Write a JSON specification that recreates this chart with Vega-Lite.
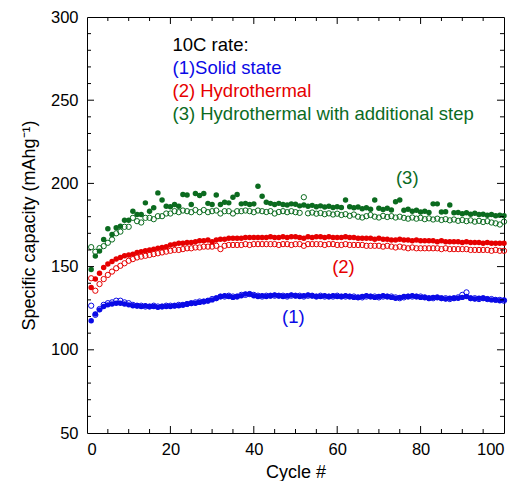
{
  "$schema": "https://vega.github.io/schema/vega-lite/v6.json",
  "width": 417,
  "height": 416,
  "autosize": {"type": "none"},
  "padding": {"left": 87, "top": 17, "right": 16, "bottom": 48},
  "background": "white",
  "config": {
    "view": {"stroke": "#000", "strokeWidth": 1},
    "font": "Liberation Sans",
    "axis": {"grid": false, "domain": false, "labelColor": "#000", "labelFont": "Liberation Sans", "labelFontSize": 16.5, "titleFont": "Liberation Sans", "titleFontSize": 18, "titleFontWeight": "normal", "titleColor": "#000"}
  },
  "datasets": {
    "b1": [{"c":1,"v":117.5},{"c":2,"v":121.5},{"c":3,"v":124},{"c":4,"v":126},{"c":5,"v":127},{"c":6,"v":127.5},{"c":7,"v":128},{"c":8,"v":128},{"c":9,"v":127.5},{"c":10,"v":127},{"c":11,"v":126.5},{"c":12,"v":126.5},{"c":13,"v":126},{"c":14,"v":126.5},{"c":15,"v":126},{"c":16,"v":126},{"c":17,"v":125.5},{"c":18,"v":126},{"c":19,"v":126},{"c":20,"v":126},{"c":21,"v":126.5},{"c":22,"v":126.5},{"c":23,"v":127},{"c":24,"v":127.5},{"c":25,"v":128},{"c":26,"v":128},{"c":27,"v":128.5},{"c":28,"v":129},{"c":29,"v":129.5},{"c":30,"v":130},{"c":31,"v":131},{"c":32,"v":132},{"c":33,"v":132.5},{"c":34,"v":132},{"c":35,"v":131.5},{"c":36,"v":132},{"c":37,"v":132.5},{"c":38,"v":133.5},{"c":39,"v":133.5},{"c":40,"v":132.5},{"c":41,"v":132},{"c":42,"v":132.5},{"c":43,"v":132},{"c":44,"v":132.5},{"c":45,"v":133},{"c":46,"v":132.5},{"c":47,"v":132},{"c":48,"v":132.5},{"c":49,"v":133},{"c":50,"v":132.5},{"c":51,"v":132},{"c":52,"v":132.5},{"c":53,"v":133},{"c":54,"v":132.5},{"c":55,"v":132},{"c":56,"v":132},{"c":57,"v":132.5},{"c":58,"v":132},{"c":59,"v":132.5},{"c":60,"v":132},{"c":61,"v":132},{"c":62,"v":132.5},{"c":63,"v":132},{"c":64,"v":131.5},{"c":65,"v":131.5},{"c":66,"v":132},{"c":67,"v":132.5},{"c":68,"v":132},{"c":69,"v":131.5},{"c":70,"v":132},{"c":71,"v":132.5},{"c":72,"v":132},{"c":73,"v":131.5},{"c":74,"v":131},{"c":75,"v":131.5},{"c":76,"v":132},{"c":77,"v":132},{"c":78,"v":132.5},{"c":79,"v":132},{"c":80,"v":131.5},{"c":81,"v":131.5},{"c":82,"v":131},{"c":83,"v":131.5},{"c":84,"v":131.5},{"c":85,"v":131},{"c":86,"v":130.5},{"c":87,"v":131},{"c":88,"v":131},{"c":89,"v":131},{"c":90,"v":131.5},{"c":91,"v":132},{"c":92,"v":131},{"c":93,"v":130.5},{"c":94,"v":131},{"c":95,"v":131},{"c":96,"v":130.5},{"c":97,"v":130},{"c":98,"v":130},{"c":99,"v":129.5},{"c":100,"v":130}],
    "b2": [{"c":1,"v":126.5},{"c":2,"v":121},{"c":3,"v":124.5},{"c":4,"v":127},{"c":5,"v":128},{"c":6,"v":128.5},{"c":7,"v":129.5},{"c":8,"v":129.5},{"c":9,"v":128.5},{"c":10,"v":128},{"c":11,"v":127},{"c":12,"v":126.5},{"c":13,"v":126.5},{"c":14,"v":126},{"c":15,"v":126},{"c":16,"v":126.5},{"c":17,"v":126},{"c":18,"v":126},{"c":19,"v":126.5},{"c":20,"v":126.5},{"c":21,"v":126.5},{"c":22,"v":127},{"c":23,"v":127},{"c":24,"v":127.5},{"c":25,"v":128},{"c":26,"v":128.5},{"c":27,"v":129},{"c":28,"v":129},{"c":29,"v":129.5},{"c":30,"v":130.5},{"c":31,"v":131},{"c":32,"v":132},{"c":33,"v":132},{"c":34,"v":132.5},{"c":35,"v":132},{"c":36,"v":132},{"c":37,"v":133},{"c":38,"v":133},{"c":39,"v":133.5},{"c":40,"v":133},{"c":41,"v":132.5},{"c":42,"v":132},{"c":43,"v":132.5},{"c":44,"v":132.5},{"c":45,"v":132.5},{"c":46,"v":132.5},{"c":47,"v":132.5},{"c":48,"v":132},{"c":49,"v":132.5},{"c":50,"v":132.5},{"c":51,"v":132.5},{"c":52,"v":132},{"c":53,"v":132.5},{"c":54,"v":132.5},{"c":55,"v":132},{"c":56,"v":132.5},{"c":57,"v":132},{"c":58,"v":132},{"c":59,"v":132},{"c":60,"v":132.5},{"c":61,"v":132},{"c":62,"v":132},{"c":63,"v":132},{"c":64,"v":132},{"c":65,"v":131.5},{"c":66,"v":131.5},{"c":67,"v":132},{"c":68,"v":132},{"c":69,"v":132},{"c":70,"v":131.5},{"c":71,"v":132},{"c":72,"v":132},{"c":73,"v":132},{"c":74,"v":131.5},{"c":75,"v":131},{"c":76,"v":131.5},{"c":77,"v":132},{"c":78,"v":132},{"c":79,"v":132},{"c":80,"v":132},{"c":81,"v":131.5},{"c":82,"v":131},{"c":83,"v":131},{"c":84,"v":131.5},{"c":85,"v":131},{"c":86,"v":131},{"c":87,"v":130.5},{"c":88,"v":131},{"c":89,"v":131.5},{"c":90,"v":133},{"c":91,"v":134.5},{"c":92,"v":131},{"c":93,"v":131},{"c":94,"v":130.5},{"c":95,"v":131},{"c":96,"v":130.5},{"c":97,"v":130.5},{"c":98,"v":130},{"c":99,"v":130},{"c":100,"v":129.5}],
    "r1": [{"c":1,"v":137.5},{"c":2,"v":142.5},{"c":3,"v":146},{"c":4,"v":149.5},{"c":5,"v":151.5},{"c":6,"v":153},{"c":7,"v":154.5},{"c":8,"v":155.5},{"c":9,"v":156.5},{"c":10,"v":157},{"c":11,"v":157.5},{"c":12,"v":158.5},{"c":13,"v":159},{"c":14,"v":159.5},{"c":15,"v":160},{"c":16,"v":160.5},{"c":17,"v":161},{"c":18,"v":161.5},{"c":19,"v":162},{"c":20,"v":163},{"c":21,"v":163.5},{"c":22,"v":164},{"c":23,"v":164},{"c":24,"v":164.5},{"c":25,"v":164.5},{"c":26,"v":165},{"c":27,"v":165.5},{"c":28,"v":165.5},{"c":29,"v":166},{"c":30,"v":165},{"c":31,"v":166},{"c":32,"v":166.5},{"c":33,"v":166.5},{"c":34,"v":167},{"c":35,"v":167},{"c":36,"v":167},{"c":37,"v":167},{"c":38,"v":167.5},{"c":39,"v":167.5},{"c":40,"v":167.5},{"c":41,"v":167.5},{"c":42,"v":167.5},{"c":43,"v":167.5},{"c":44,"v":168},{"c":45,"v":167.5},{"c":46,"v":167.5},{"c":47,"v":168},{"c":48,"v":167.5},{"c":49,"v":168},{"c":50,"v":168},{"c":51,"v":167.5},{"c":52,"v":167},{"c":53,"v":168},{"c":54,"v":167.5},{"c":55,"v":168},{"c":56,"v":168},{"c":57,"v":167.5},{"c":58,"v":168},{"c":59,"v":167.5},{"c":60,"v":167.5},{"c":61,"v":167.5},{"c":62,"v":168},{"c":63,"v":167.5},{"c":64,"v":167.5},{"c":65,"v":167},{"c":66,"v":167},{"c":67,"v":167},{"c":68,"v":167},{"c":69,"v":166.5},{"c":70,"v":167},{"c":71,"v":166.5},{"c":72,"v":166.5},{"c":73,"v":166},{"c":74,"v":166},{"c":75,"v":166.5},{"c":76,"v":166},{"c":77,"v":166},{"c":78,"v":165.5},{"c":79,"v":166},{"c":80,"v":165.5},{"c":81,"v":165.5},{"c":82,"v":165.5},{"c":83,"v":165.5},{"c":84,"v":165},{"c":85,"v":165.5},{"c":86,"v":165},{"c":87,"v":165},{"c":88,"v":165},{"c":89,"v":165},{"c":90,"v":164.5},{"c":91,"v":165},{"c":92,"v":164.5},{"c":93,"v":164.5},{"c":94,"v":164.5},{"c":95,"v":164},{"c":96,"v":164.5},{"c":97,"v":164},{"c":98,"v":164},{"c":99,"v":164},{"c":100,"v":164}],
    "r2": [{"c":1,"v":143},{"c":2,"v":135.5},{"c":3,"v":139.5},{"c":4,"v":142.5},{"c":5,"v":145},{"c":6,"v":147},{"c":7,"v":149},{"c":8,"v":150.5},{"c":9,"v":152},{"c":10,"v":153.5},{"c":11,"v":154.5},{"c":12,"v":155.5},{"c":13,"v":156},{"c":14,"v":156.5},{"c":15,"v":157},{"c":16,"v":157.5},{"c":17,"v":158},{"c":18,"v":158.5},{"c":19,"v":159},{"c":20,"v":159.5},{"c":21,"v":160},{"c":22,"v":160},{"c":23,"v":160.5},{"c":24,"v":161},{"c":25,"v":161},{"c":26,"v":161.5},{"c":27,"v":161.5},{"c":28,"v":162},{"c":29,"v":162},{"c":30,"v":162},{"c":31,"v":162.5},{"c":32,"v":160.5},{"c":33,"v":162.5},{"c":34,"v":163},{"c":35,"v":163},{"c":36,"v":163},{"c":37,"v":163},{"c":38,"v":163.5},{"c":39,"v":163},{"c":40,"v":163.5},{"c":41,"v":163.5},{"c":42,"v":163.5},{"c":43,"v":163.5},{"c":44,"v":163.5},{"c":45,"v":163.5},{"c":46,"v":163},{"c":47,"v":163.5},{"c":48,"v":163.5},{"c":49,"v":163},{"c":50,"v":163.5},{"c":51,"v":163.5},{"c":52,"v":162.5},{"c":53,"v":163.5},{"c":54,"v":163.5},{"c":55,"v":163.5},{"c":56,"v":163.5},{"c":57,"v":163},{"c":58,"v":163.5},{"c":59,"v":163.5},{"c":60,"v":163},{"c":61,"v":163},{"c":62,"v":163.5},{"c":63,"v":163},{"c":64,"v":163},{"c":65,"v":163},{"c":66,"v":163},{"c":67,"v":162.5},{"c":68,"v":162.5},{"c":69,"v":162.5},{"c":70,"v":162.5},{"c":71,"v":162},{"c":72,"v":162.5},{"c":73,"v":162},{"c":74,"v":161.5},{"c":75,"v":162},{"c":76,"v":161.5},{"c":77,"v":161},{"c":78,"v":161.5},{"c":79,"v":161},{"c":80,"v":161},{"c":81,"v":161},{"c":82,"v":161},{"c":83,"v":161},{"c":84,"v":161},{"c":85,"v":160.5},{"c":86,"v":161},{"c":87,"v":160.5},{"c":88,"v":160.5},{"c":89,"v":160.5},{"c":90,"v":160.5},{"c":91,"v":160.5},{"c":92,"v":160},{"c":93,"v":160},{"c":94,"v":160},{"c":95,"v":160},{"c":96,"v":160},{"c":97,"v":159.5},{"c":98,"v":160},{"c":99,"v":159.5},{"c":100,"v":159.5}],
    "g1": [{"c":1,"v":148.3},{"c":2,"v":156.3},{"c":3,"v":159.3},{"c":4,"v":166.3},{"c":5,"v":172.7},{"c":6,"v":169.3},{"c":7,"v":173.3},{"c":8,"v":174.3},{"c":9,"v":177.9},{"c":10,"v":177.9},{"c":11,"v":183.3},{"c":12,"v":181.3},{"c":13,"v":181.3},{"c":14,"v":188.3},{"c":15,"v":183.3},{"c":16,"v":185.3},{"c":17,"v":194.3},{"c":18,"v":190},{"c":19,"v":186.3},{"c":20,"v":186},{"c":21,"v":187.3},{"c":22,"v":186.3},{"c":23,"v":193.3},{"c":24,"v":193},{"c":25,"v":187.3},{"c":26,"v":193.9},{"c":27,"v":192.7},{"c":28,"v":193.9},{"c":29,"v":188},{"c":30,"v":187.3},{"c":31,"v":193},{"c":32,"v":187.3},{"c":33,"v":188.7},{"c":34,"v":188.3},{"c":35,"v":191.7},{"c":36,"v":193.3},{"c":37,"v":187.7},{"c":38,"v":188},{"c":39,"v":187.3},{"c":40,"v":187.7},{"c":41,"v":198.3},{"c":42,"v":192.3},{"c":43,"v":188.7},{"c":44,"v":188},{"c":45,"v":187.3},{"c":46,"v":188},{"c":47,"v":187.3},{"c":48,"v":187},{"c":49,"v":187.7},{"c":50,"v":187.5},{"c":51,"v":186.5},{"c":52,"v":187},{"c":53,"v":186.3},{"c":54,"v":186.8},{"c":55,"v":186},{"c":56,"v":186.5},{"c":57,"v":185.8},{"c":58,"v":186.3},{"c":59,"v":185.5},{"c":60,"v":186},{"c":61,"v":185.5},{"c":62,"v":190},{"c":63,"v":186},{"c":64,"v":185.3},{"c":65,"v":185.8},{"c":66,"v":184.8},{"c":67,"v":185.3},{"c":68,"v":184.5},{"c":69,"v":190},{"c":70,"v":185},{"c":71,"v":184.3},{"c":72,"v":185},{"c":73,"v":184},{"c":74,"v":189},{"c":75,"v":190},{"c":76,"v":183.8},{"c":77,"v":184.5},{"c":78,"v":183.3},{"c":79,"v":183.8},{"c":80,"v":182.8},{"c":81,"v":183.3},{"c":82,"v":182.5},{"c":83,"v":187.7},{"c":84,"v":187.7},{"c":85,"v":182.8},{"c":86,"v":183},{"c":87,"v":187},{"c":88,"v":182.3},{"c":89,"v":182.5},{"c":90,"v":181.8},{"c":91,"v":182.3},{"c":92,"v":181.5},{"c":93,"v":182},{"c":94,"v":181.3},{"c":95,"v":181.5},{"c":96,"v":180.8},{"c":97,"v":181.3},{"c":98,"v":180.5},{"c":99,"v":180.8},{"c":100,"v":180.5}],
    "g2": [{"c":1,"v":161.7},{"c":2,"v":158.9},{"c":3,"v":161.1},{"c":4,"v":162.3},{"c":5,"v":164.3},{"c":6,"v":166.3},{"c":7,"v":170},{"c":8,"v":171},{"c":9,"v":173.9},{"c":10,"v":173.9},{"c":11,"v":179.3},{"c":12,"v":177.3},{"c":13,"v":176.5},{"c":14,"v":179.3},{"c":15,"v":179.3},{"c":16,"v":178.5},{"c":17,"v":180.3},{"c":18,"v":180.3},{"c":19,"v":181.9},{"c":20,"v":181.9},{"c":21,"v":183.3},{"c":22,"v":182.7},{"c":23,"v":183.7},{"c":24,"v":183.3},{"c":25,"v":182.7},{"c":26,"v":184},{"c":27,"v":182.7},{"c":28,"v":184},{"c":29,"v":182.7},{"c":30,"v":183.3},{"c":31,"v":183.7},{"c":32,"v":181.9},{"c":33,"v":183.3},{"c":34,"v":183.3},{"c":35,"v":181.9},{"c":36,"v":183.3},{"c":37,"v":183.3},{"c":38,"v":183.7},{"c":39,"v":183.3},{"c":40,"v":182.7},{"c":41,"v":183.7},{"c":42,"v":183.3},{"c":43,"v":182.8},{"c":44,"v":183.3},{"c":45,"v":181.9},{"c":46,"v":182.8},{"c":47,"v":183.3},{"c":48,"v":182.7},{"c":49,"v":183.3},{"c":50,"v":182.7},{"c":51,"v":182.3},{"c":52,"v":191.7},{"c":53,"v":182},{"c":54,"v":182.5},{"c":55,"v":181.8},{"c":56,"v":182.2},{"c":57,"v":181.5},{"c":58,"v":182},{"c":59,"v":181.3},{"c":60,"v":181.8},{"c":61,"v":181},{"c":62,"v":181.5},{"c":63,"v":180.5},{"c":64,"v":181.3},{"c":65,"v":180},{"c":66,"v":179.5},{"c":67,"v":180.3},{"c":68,"v":181},{"c":69,"v":180},{"c":70,"v":179.5},{"c":71,"v":180.5},{"c":72,"v":179.8},{"c":73,"v":180.3},{"c":74,"v":179.5},{"c":75,"v":180},{"c":76,"v":179.3},{"c":77,"v":178.8},{"c":78,"v":179.5},{"c":79,"v":178.8},{"c":80,"v":179.3},{"c":81,"v":178.5},{"c":82,"v":179},{"c":83,"v":178.3},{"c":84,"v":178.8},{"c":85,"v":178},{"c":86,"v":178.5},{"c":87,"v":177.8},{"c":88,"v":178.3},{"c":89,"v":177.5},{"c":90,"v":178},{"c":91,"v":177.3},{"c":92,"v":177.8},{"c":93,"v":177},{"c":94,"v":177.5},{"c":95,"v":176.8},{"c":96,"v":177.3},{"c":97,"v":176.5},{"c":98,"v":176},{"c":99,"v":175.3},{"c":100,"v":177}],
    "xmaj": [{"t": 20}, {"t": 40}, {"t": 60}, {"t": 80}],
    "xmin": [{"t": 5}, {"t": 10}, {"t": 15}, {"t": 25}, {"t": 30}, {"t": 35}, {"t": 45}, {"t": 50}, {"t": 55}, {"t": 65}, {"t": 70}, {"t": 75}, {"t": 85}, {"t": 90}, {"t": 95}],
    "ymaj": [{"t": 100}, {"t": 150}, {"t": 200}, {"t": 250}],
    "ymin": [{"t": 60}, {"t": 70}, {"t": 80}, {"t": 90}, {"t": 110}, {"t": 120}, {"t": 130}, {"t": 140}, {"t": 160}, {"t": 170}, {"t": 180}, {"t": 190}, {"t": 210}, {"t": 220}, {"t": 230}, {"t": 240}, {"t": 260}, {"t": 270}, {"t": 280}, {"t": 290}],
    "notes": [
      {"x": 20.5, "y": 283, "t": "10C rate:", "k": "k"},
      {"x": 20.5, "y": 269.2, "t": "(1)Solid state", "k": "b"},
      {"x": 20.5, "y": 255.6, "t": "(2) Hydrothermal", "k": "r"},
      {"x": 20.5, "y": 242, "t": "(3) Hydrothermal with additional step", "k": "g"}
    ],
    "tags": [
      {"x": 49.5, "y": 119.5, "t": "(1)", "k": "b"},
      {"x": 61.5, "y": 150, "t": "(2)", "k": "r"},
      {"x": 76.8, "y": 203, "t": "(3)", "k": "g"}
    ]
  },
  "resolve": {"axis": {"x": "independent", "y": "independent"}},
  "layer": [
    {
      "data": {"name": "b1"},
      "mark": {"type": "point", "filled": true, "size": 30, "color": "#0a0ae6", "opacity": 1},
      "encoding": {
        "x": {"field": "c", "type": "quantitative", "scale": {"domain": [0, 100], "nice": false}, "axis": {"orient": "bottom", "offset": -5, "values": [0, 20, 40, 60, 80, 100], "tickSize": 5, "tickOpacity": 0, "labelPadding": 8, "title": "Cycle #", "titlePadding": 6}},
        "y": {"field": "v", "type": "quantitative", "scale": {"domain": [50, 300], "nice": false, "zero": false}, "axis": {"orient": "left", "offset": -5, "values": [50, 100, 150, 200, 250, 300], "tickSize": 5, "tickOpacity": 0, "labelPadding": 9, "title": "Specific capacity (mAhg⁻¹)", "titlePadding": 12}}
      }
    },
    {
      "data": {"name": "b2"},
      "mark": {"type": "point", "filled": false, "size": 28, "strokeWidth": 1, "color": "#0a0ae6", "opacity": 1},
      "encoding": {"x": {"field": "c", "type": "quantitative", "axis": null}, "y": {"field": "v", "type": "quantitative", "axis": null}}
    },
    {
      "data": {"name": "r1"},
      "mark": {"type": "point", "filled": true, "size": 30, "color": "#e60000", "opacity": 1},
      "encoding": {"x": {"field": "c", "type": "quantitative", "axis": null}, "y": {"field": "v", "type": "quantitative", "axis": null}}
    },
    {
      "data": {"name": "r2"},
      "mark": {"type": "point", "filled": false, "size": 28, "strokeWidth": 1, "color": "#e60000", "opacity": 1},
      "encoding": {"x": {"field": "c", "type": "quantitative", "axis": null}, "y": {"field": "v", "type": "quantitative", "axis": null}}
    },
    {
      "data": {"name": "g1"},
      "mark": {"type": "point", "filled": true, "size": 30, "color": "#0b6b1f", "opacity": 1},
      "encoding": {"x": {"field": "c", "type": "quantitative", "axis": null}, "y": {"field": "v", "type": "quantitative", "axis": null}}
    },
    {
      "data": {"name": "g2"},
      "mark": {"type": "point", "filled": false, "size": 28, "strokeWidth": 1, "color": "#0b6b1f", "opacity": 1},
      "encoding": {"x": {"field": "c", "type": "quantitative", "axis": null}, "y": {"field": "v", "type": "quantitative", "axis": null}}
    },
    {
      "data": {"name": "xmaj"},
      "mark": {"type": "rule", "color": "#000", "strokeWidth": 1},
      "encoding": {"x": {"field": "t", "type": "quantitative", "axis": null}, "y": {"datum": 50, "type": "quantitative", "axis": null}, "y2": {"datum": 54.2}}
    },
    {
      "data": {"name": "xmaj"},
      "mark": {"type": "rule", "color": "#000", "strokeWidth": 1},
      "encoding": {"x": {"field": "t", "type": "quantitative", "axis": null}, "y": {"datum": 300, "type": "quantitative", "axis": null}, "y2": {"datum": 295.8}}
    },
    {
      "data": {"name": "xmin"},
      "mark": {"type": "rule", "color": "#000", "strokeWidth": 1},
      "encoding": {"x": {"field": "t", "type": "quantitative", "axis": null}, "y": {"datum": 50, "type": "quantitative", "axis": null}, "y2": {"datum": 52.4}}
    },
    {
      "data": {"name": "xmin"},
      "mark": {"type": "rule", "color": "#000", "strokeWidth": 1},
      "encoding": {"x": {"field": "t", "type": "quantitative", "axis": null}, "y": {"datum": 300, "type": "quantitative", "axis": null}, "y2": {"datum": 297.6}}
    },
    {
      "data": {"name": "ymaj"},
      "mark": {"type": "rule", "color": "#000", "strokeWidth": 1},
      "encoding": {"y": {"field": "t", "type": "quantitative", "axis": null}, "x": {"datum": 0, "type": "quantitative", "axis": null}, "x2": {"datum": 1.68}}
    },
    {
      "data": {"name": "ymaj"},
      "mark": {"type": "rule", "color": "#000", "strokeWidth": 1},
      "encoding": {"y": {"field": "t", "type": "quantitative", "axis": null}, "x": {"datum": 100, "type": "quantitative", "axis": null}, "x2": {"datum": 98.32}}
    },
    {
      "data": {"name": "ymin"},
      "mark": {"type": "rule", "color": "#000", "strokeWidth": 1},
      "encoding": {"y": {"field": "t", "type": "quantitative", "axis": null}, "x": {"datum": 0, "type": "quantitative", "axis": null}, "x2": {"datum": 0.96}}
    },
    {
      "data": {"name": "ymin"},
      "mark": {"type": "rule", "color": "#000", "strokeWidth": 1},
      "encoding": {"y": {"field": "t", "type": "quantitative", "axis": null}, "x": {"datum": 100, "type": "quantitative", "axis": null}, "x2": {"datum": 99.04}}
    },
    {
      "data": {"name": "notes"},
      "mark": {"type": "text", "align": "left", "baseline": "middle", "fontSize": 18.5, "font": "Liberation Sans"},
      "encoding": {
        "x": {"field": "x", "type": "quantitative", "axis": null},
        "y": {"field": "y", "type": "quantitative", "axis": null},
        "text": {"field": "t"},
        "color": {"field": "k", "type": "nominal", "scale": {"domain": ["k", "b", "r", "g"], "range": ["#000000", "#0a0ae6", "#e60000", "#0b6b1f"]}, "legend": null}
      }
    },
    {
      "data": {"name": "tags"},
      "mark": {"type": "text", "align": "center", "baseline": "middle", "fontSize": 18.5, "font": "Liberation Sans"},
      "encoding": {
        "x": {"field": "x", "type": "quantitative", "axis": null},
        "y": {"field": "y", "type": "quantitative", "axis": null},
        "text": {"field": "t"},
        "color": {"field": "k", "type": "nominal", "scale": {"domain": ["k", "b", "r", "g"], "range": ["#000000", "#0a0ae6", "#e60000", "#0b6b1f"]}, "legend": null}
      }
    }
  ]
}
